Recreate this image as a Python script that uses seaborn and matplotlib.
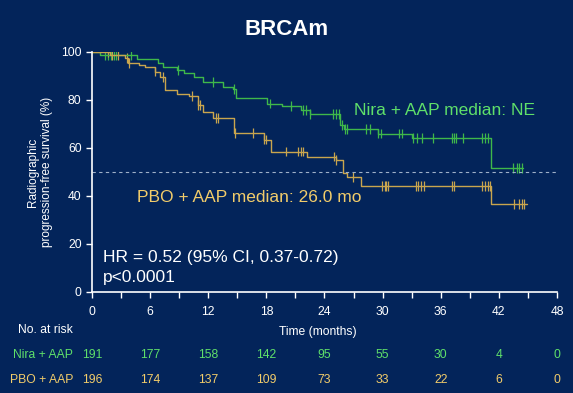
import numpy as np
import pandas as pd
import matplotlib
import matplotlib.pyplot as plt
import seaborn as sns
from matplotlib.ticker import MultipleLocator

matplotlib.use('Agg')

# ---- data ----
# step points of the KM curves (time in months, survival %)
nira_t = [0, 0.8, 4.6, 6.8, 7.3, 8.8, 9.5, 10.5, 11.5, 13.5, 14.6, 14.9, 18.1, 19.6,
          21.6, 22.5, 25.6, 26.0, 29.5, 33.0, 41.2, 44.5]
nira_s = [100, 98.8, 97.2, 95.5, 93.5, 92.5, 91, 89.5, 87.5, 85.5, 84.5, 80.6, 78.5, 77.6,
          75.8, 74.0, 69.5, 68, 66, 64, 51.5, 51.5]
pbo_t = [0, 1.9, 3.4, 3.7, 4.8, 5.5, 6.5, 7.0, 7.5, 8.8, 10.0, 10.9, 11.5, 12.5, 14.7, 17.8,
         18.5, 22.2, 25.2, 25.9, 26.3, 27.8, 41.2, 44.9]
pbo_s = [100, 98.5, 97.4, 95.3, 94.5, 93.8, 91.8, 89.7, 84.2, 82.5, 81.5, 78, 75.1, 72.5, 66.1,
         63.5, 58.5, 56.4, 55, 49.4, 48, 44.2, 36.6, 36.6]

# censoring times
nira_cens = [1.3, 1.6, 2.0, 2.3, 2.5, 4.0, 8.9, 12.5, 14.7, 18.4, 20.5, 21.8, 22.1, 22.5,
             24.9, 25.2, 25.5, 25.8, 26.1, 26.3, 28.3, 28.7, 29.5, 29.8, 31.7, 32.0,
             33.1, 33.6, 34.1, 35.2, 37.2, 37.4, 37.6, 38.3, 40.3, 40.6, 40.9,
             43.5, 43.9, 44.1, 44.4]
pbo_cens = [1.7, 2.1, 2.7, 3.6, 3.8, 6.5, 7.3, 10.3, 10.9, 11.1, 12.8, 13.0, 14.8, 16.6,
            17.8, 18.0, 20.0, 21.3, 21.6, 21.8, 25.0, 25.2, 26.9, 29.9, 30.2, 30.4, 30.6,
            33.4, 33.7, 34.0, 34.3, 37.2, 37.4, 40.3, 40.6, 40.9, 41.1, 43.6, 44.1, 44.4, 44.6]

risk_times = [0, 6, 12, 18, 24, 30, 36, 42, 48]
nira_risk = [191, 177, 158, 142, 95, 55, 30, 4, 0]
pbo_risk = [196, 174, 137, 109, 73, 33, 22, 6, 0]

BG = '#03245a'
GREEN_LINE = '#3fb84a'
GREEN_TXT = '#5fe06a'
YEL_LINE = '#c9a54e'
YEL_TXT = '#f2cc6a'
WHITE = '#ffffff'


def km_at(times, surv, t):
    idx = np.searchsorted(times, t, side='right') - 1
    return np.asarray(surv)[idx]


curves = pd.concat([
    pd.DataFrame({'time': nira_t, 'surv': nira_s, 'arm': 'Nira + AAP'}),
    pd.DataFrame({'time': pbo_t, 'surv': pbo_s, 'arm': 'PBO + AAP'}),
])
cens = pd.concat([
    pd.DataFrame({'time': nira_cens, 'surv': km_at(nira_t, nira_s, nira_cens), 'arm': 'Nira + AAP'}),
    pd.DataFrame({'time': pbo_cens, 'surv': km_at(pbo_t, pbo_s, pbo_cens), 'arm': 'PBO + AAP'}),
])
palette = {'Nira + AAP': GREEN_LINE, 'PBO + AAP': YEL_LINE}

sns.set_style('dark', {'axes.facecolor': BG, 'figure.facecolor': BG})
plt.rcParams['font.family'] = ['Liberation Sans', 'DejaVu Sans']

fig = plt.figure(figsize=(5.73, 3.93), dpi=100, facecolor=BG)
ax = fig.add_axes([0.1606, 0.257, 0.8114, 0.611])
ax.set_facecolor(BG)

sns.lineplot(data=curves, x='time', y='surv', hue='arm', palette=palette, estimator=None,
             sort=False, drawstyle='steps-post', linewidth=1.0, legend=False, ax=ax)
sns.scatterplot(data=cens, x='time', y='surv', hue='arm', palette=palette, marker='|',
                s=50, linewidth=0.9, legend=False, ax=ax)

ax.axhline(50, color='#9fb0c8', linestyle=(0, (3, 3)), linewidth=0.8)

ax.set_xlim(0, 48)
ax.set_ylim(0, 100)
ax.xaxis.set_major_locator(MultipleLocator(6))
ax.xaxis.set_minor_locator(MultipleLocator(3))
ax.yaxis.set_major_locator(MultipleLocator(20))
ax.tick_params(axis='both', which='both', colors=WHITE, direction='out', length=4, width=1,
               labelsize=8.7, bottom=True, left=True)
ax.tick_params(axis='x', pad=6)
for sp in ['top', 'right']:
    ax.spines[sp].set_visible(False)
for sp in ['left', 'bottom']:
    ax.spines[sp].set_color(WHITE)
    ax.spines[sp].set_linewidth(1.2)
ax.grid(False)
ax.set_xlabel('')
ax.set_ylabel('Radiographic\nprogression-free survival (%)', color=WHITE, fontsize=8.5, labelpad=6)

fig.text(0.5, 0.925, 'BRCAm', color=WHITE, fontsize=16, fontweight='bold', ha='center', va='center')

ax.text(27.0, 75.5, 'Nira + AAP median: NE', color=GREEN_TXT, fontsize=12.5, va='center')
ax.text(4.6, 39.5, 'PBO + AAP median: 26.0 mo', color=YEL_TXT, fontsize=12.5, va='center')
ax.text(1.1, 14.5, 'HR = 0.52 (95% CI, 0.37-0.72)', color=WHITE, fontsize=12.5, va='center')
ax.text(1.1, 6.0, 'p<0.0001', color=WHITE, fontsize=12.5, va='center')

# number at risk table
fig.text(318 / 573, 1 - 332 / 393, 'Time (months)', color=WHITE, fontsize=8.7, ha='center', va='center')
fig.text(73 / 573, 1 - 330 / 393, 'No. at risk', color=WHITE, fontsize=8.7, ha='right', va='center')
rows = [('Nira + AAP', nira_risk, GREEN_TXT, 355), ('PBO + AAP', pbo_risk, YEL_TXT, 380)]
for label, vals, col, ypx in rows:
    yf = 1 - ypx / 393
    fig.text(73 / 573, yf, label, color=col, fontsize=8.7, ha='right', va='center')
    for t, v in zip(risk_times, vals):
        xf = ax.transData.transform((t, 0))[0] / fig.bbox.width
        fig.text(xf, yf, str(v), color=col, fontsize=8.7, ha='center', va='center')

fig.savefig('out.png', dpi=100, facecolor=BG)
